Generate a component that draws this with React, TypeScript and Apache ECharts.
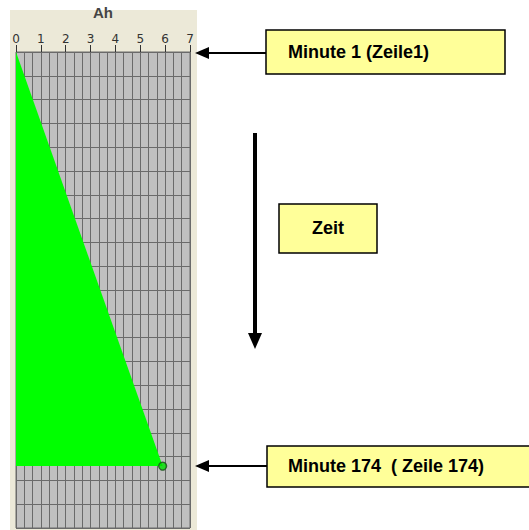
import React, { useEffect, useRef } from "react";
import * as echarts from "echarts";

// Data
const ahValues = [0, 5.9]; // Ah at first and last minute
const minuteValues = [1, 174]; // Minute (row) numbers
const xTicks = [0, 1, 2, 3, 4, 5, 6, 7];
const labelTop = "Minute 1 (Zeile1)";
const labelMid = "Zeit";
const labelBottom = "Minute 174  ( Zeile 174)";

export default function App() {
  const ref = useRef<HTMLDivElement>(null);
  useEffect(() => {
    if (!ref.current) return;
    const chart = echarts.init(ref.current, null, { renderer: "svg" });
    const boxFont = { fontFamily: "Liberation Sans, Arial, sans-serif", fontWeight: "bold", fontSize: 18, fill: "#000" };
    const option: any = {
      animation: false,
      backgroundColor: "#ffffff",
      graphic: [
        { type: "rect", z: -10, silent: true, shape: { x: 10, y: 10, width: 187, height: 530 }, style: { fill: "#ECE9D8" } },
        // top box
        { type: "rect", shape: { x: 266, y: 30, width: 239, height: 44 }, style: { fill: "#FFFF99", stroke: "#000", lineWidth: 1.5 } },
        { type: "text", x: 288, y: 52, style: { ...boxFont, text: labelTop, verticalAlign: "middle" } },
        { type: "line", shape: { x1: 207, y1: 53, x2: 266, y2: 53 }, style: { stroke: "#000", lineWidth: 2 } },
        { type: "polygon", shape: { points: [[195, 53], [209, 47], [209, 59]] }, style: { fill: "#000" } },
        // vertical arrow
        { type: "line", shape: { x1: 255, y1: 133, x2: 255, y2: 336 }, style: { stroke: "#000", lineWidth: 4 } },
        { type: "polygon", shape: { points: [[255, 349], [248, 333], [262, 333]] }, style: { fill: "#000" } },
        // Zeit box
        { type: "rect", shape: { x: 279, y: 204, width: 98, height: 49 }, style: { fill: "#FFFF99", stroke: "#000", lineWidth: 1.5 } },
        { type: "text", x: 328, y: 228, style: { ...boxFont, text: labelMid, align: "center", verticalAlign: "middle" } },
        // bottom box
        { type: "rect", shape: { x: 267, y: 446, width: 270, height: 41 }, style: { fill: "#FFFF99", stroke: "#000", lineWidth: 1.5 } },
        { type: "text", x: 288, y: 466, style: { ...boxFont, text: labelBottom, verticalAlign: "middle" } },
        { type: "line", shape: { x1: 207, y1: 466, x2: 267, y2: 466 }, style: { stroke: "#000", lineWidth: 2 } },
        { type: "polygon", shape: { points: [[195, 466], [209, 460], [209, 472]] }, style: { fill: "#000" } },
      ],
      grid: {
        left: 16,
        top: 52,
        width: 174,
        height: 476,
        show: true,
        backgroundColor: "#C0C0C0",
        borderColor: "#6a6a6a",
        borderWidth: 1,
      },
      xAxis: {
        type: "value",
        position: "top",
        min: xTicks[0],
        max: xTicks[xTicks.length - 1],
        interval: 1,
        offset: 4,
        name: "Ah",
        nameLocation: "middle",
        nameGap: 28,
        nameTextStyle: { fontFamily: "Liberation Sans, Arial, sans-serif", fontWeight: "bold", fontSize: 15, color: "#444" },
        axisLine: { show: false },
        axisTick: { show: true, length: 7, lineStyle: { color: "#333" } },
        axisLabel: { margin: 3, fontFamily: "DejaVu Sans, sans-serif", fontSize: 12, color: "#333" },
        splitLine: { show: true, lineStyle: { color: "#6a6a6a", width: 1 } },
        minorTick: { show: false, splitNumber: 3 },
        minorSplitLine: { show: true, lineStyle: { color: "#6a6a6a", width: 1 } },
      },
      yAxis: {
        type: "value",
        inverse: true,
        min: 0,
        max: 200,
        interval: 10,
        axisLine: { show: false },
        axisTick: { show: false },
        axisLabel: { show: false },
        splitLine: { show: true, lineStyle: { color: "#6a6a6a", width: 1 } },
      },
      series: [
        {
          type: "custom",
          clip: true,
          data: [[ahValues[1], minuteValues[1]]],
          renderItem: (params: any, api: any) => {
            const p0 = api.coord([ahValues[0], minuteValues[0] - 1]);
            const p1 = api.coord([api.value(0), api.value(1)]);
            const p2 = api.coord([ahValues[0], api.value(1)]);
            return {
              type: "polygon",
              shape: { points: [p0, p1, p2] },
              style: { fill: "#00FF00" },
            };
          },
          z: 3,
        },
        {
          type: "scatter",
          data: [[ahValues[1], minuteValues[1]]],
          symbol: "circle",
          symbolSize: 8,
          itemStyle: { color: "#00DD00", borderColor: "#1a4d1a", borderWidth: 1.3 },
          z: 4,
        },
      ],
    };
    chart.setOption(option);
    return () => chart.dispose();
  }, []);
  return <div ref={ref} style={{ position: "absolute", left: 0, top: 0, width: 529, height: 530 }} />;
}
